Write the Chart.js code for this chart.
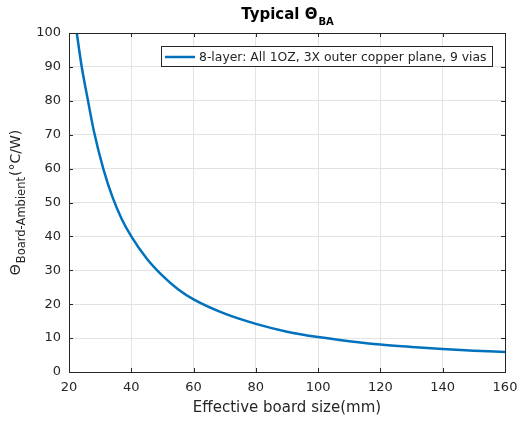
<!DOCTYPE html>
<html>
<head>
<meta charset="utf-8">
<script src="https://cdn.jsdelivr.net/npm/chart.js@4"></script>
<style>
  html, body { margin: 0; padding: 0; background: #fff; }
  #wrap { width: 519px; height: 423px; }
</style>
</head>
<body>
<div id="wrap"><canvas id="chart" width="519" height="423"></canvas></div>
<script>
// データ
const boardSize = [22.5, 24, 26, 28, 31, 34, 37, 40, 45, 50, 55, 60, 70, 80, 90, 100, 110, 120, 130, 140, 150, 160];
const thetaBA   = [100, 90.5, 80.5, 71, 60, 51.5, 45, 40, 33.4, 28.4, 24.4, 21.4, 17.2, 14.2, 11.9, 10.3, 9.1, 8.1, 7.4, 6.8, 6.3, 5.9];
const xTicks = [20, 40, 60, 80, 100, 120, 140, 160];
const yTicks = [0, 10, 20, 30, 40, 50, 60, 70, 80, 90, 100];
const seriesLabel = '8-layer: All 1OZ, 3X outer copper plane, 9 vias';

const FONT = '"DejaVu Sans", sans-serif';
const TEXT = '#262626';
const BLUE = '#0072BD';

// タイトル・軸ラベル・凡例・枠を描くプラグイン
const decorations = {
    id: 'decorations',
    afterDraw(chart) {
        const ctx = chart.ctx;
        const a = chart.chartArea;
        const xs = chart.scales.x, ys = chart.scales.y;
        ctx.save();

        // 内向きの目盛りと枠
        ctx.strokeStyle = TEXT;
        ctx.lineWidth = 1;
        ctx.beginPath();
        xTicks.forEach(v => {
            const px = Math.round(xs.getPixelForValue(v)) + 0.5;
            ctx.moveTo(px, a.bottom); ctx.lineTo(px, a.bottom - 4);
            ctx.moveTo(px, a.top); ctx.lineTo(px, a.top + 4);
        });
        yTicks.forEach(v => {
            const py = Math.round(ys.getPixelForValue(v)) + 0.5;
            ctx.moveTo(a.left, py); ctx.lineTo(a.left + 4, py);
            ctx.moveTo(a.right, py); ctx.lineTo(a.right - 4, py);
        });
        ctx.stroke();
        ctx.strokeRect(Math.round(a.left) + 0.5, Math.round(a.top) + 0.5,
            Math.round(a.right - a.left), Math.round(a.bottom - a.top));

        // タイトル
        ctx.fillStyle = '#000';
        ctx.textBaseline = 'alphabetic';
        const t1 = 'Typical \u0398';
        const sub = 'BA';
        ctx.font = 'bold 10px ' + FONT;
        const wSub = ctx.measureText(sub).width;
        ctx.font = 'bold 15px ' + FONT;
        const w1 = ctx.measureText(t1).width;
        const cx = (a.left + a.right) / 2;
        const tx = cx - (w1 + wSub) / 2;
        ctx.textAlign = 'left';
        ctx.fillText(t1, tx, 19);
        ctx.font = 'bold 10px ' + FONT;
        ctx.fillText(sub, tx + w1 + 1, 25);

        // x軸ラベル
        ctx.fillStyle = TEXT;
        ctx.font = '15px ' + FONT;
        ctx.textAlign = 'center';
        ctx.fillText('Effective board size(mm)', cx, 412);

        // y軸ラベル（回転、下付き文字付き）
        ctx.save();
        const cy = (a.top + a.bottom) / 2;
        ctx.translate(20, cy);
        ctx.rotate(-Math.PI / 2);
        ctx.textAlign = 'left';
        const partA = '\u0398', partB = 'Board-Ambient', partC = '(\u00B0C/W)';
        ctx.font = '14px ' + FONT;
        const wA = ctx.measureText(partA).width;
        const wC = ctx.measureText(partC).width;
        ctx.font = '11.5px ' + FONT;
        const wB = ctx.measureText(partB).width;
        const total = wA + wB + wC + 2;
        let px = -total / 2;
        ctx.font = '14px ' + FONT;
        ctx.fillText(partA, px, 0);
        px += wA + 1;
        ctx.font = '11.5px ' + FONT;
        ctx.fillText(partB, px, 5);
        px += wB + 1;
        ctx.font = '14px ' + FONT;
        ctx.fillText(partC, px, 0);
        ctx.restore();

        // 凡例
        const lx = 161.5, ly = 46.5, lw = 331, lh = 20;
        ctx.fillStyle = '#fff';
        ctx.fillRect(lx, ly, lw, lh);
        ctx.strokeStyle = TEXT;
        ctx.lineWidth = 1;
        ctx.strokeRect(lx, ly, lw, lh);
        ctx.strokeStyle = BLUE;
        ctx.lineWidth = 2.5;
        ctx.beginPath();
        ctx.moveTo(165, 57); ctx.lineTo(195, 57);
        ctx.stroke();
        ctx.fillStyle = TEXT;
        ctx.font = '12.4px ' + FONT;
        ctx.textAlign = 'left';
        ctx.fillText(chart.data.datasets[0].label, 199, 61);

        ctx.restore();
    }
};

function initializeChart() {
    const canvas = document.getElementById('chart');
    new Chart(canvas, {
        type: 'line',
        data: {
            datasets: [{
                label: seriesLabel,
                data: boardSize.map((x, i) => ({ x: x, y: thetaBA[i] })),
                borderColor: BLUE,
                borderWidth: 2.5,
                pointRadius: 0,
                fill: false,
                cubicInterpolationMode: 'monotone'
            }]
        },
        options: {
            responsive: false,
            animation: false,
            layout: { padding: { left: 0, top: 33, right: 14, bottom: 0 } },
            plugins: {
                legend: { display: false },
                title: { display: false },
                tooltip: { enabled: false }
            },
            scales: {
                x: {
                    type: 'linear',
                    min: 20, max: 160,
                    afterBuildTicks: s => { s.ticks = xTicks.map(v => ({ value: v })); },
                    afterFit: s => { s.height = 51; s.paddingLeft = 0; s.paddingRight = 0; },
                    grid: { color: '#e3e3e3', drawTicks: false },
                    border: { display: false },
                    ticks: { padding: 8, color: TEXT, font: { family: FONT, size: 13 }, maxRotation: 0 }
                },
                y: {
                    min: 0, max: 100,
                    afterBuildTicks: s => { s.ticks = yTicks.map(v => ({ value: v })); },
                    afterFit: s => { s.width = 69; s.paddingTop = 0; s.paddingBottom = 0; },
                    grid: { color: '#e3e3e3', drawTicks: false },
                    border: { display: false },
                    ticks: { padding: 8, color: TEXT, font: { family: FONT, size: 13 } }
                }
            }
        },
        plugins: [decorations]
    });
}

document.addEventListener('DOMContentLoaded', initializeChart);
</script>
</body>
</html>
